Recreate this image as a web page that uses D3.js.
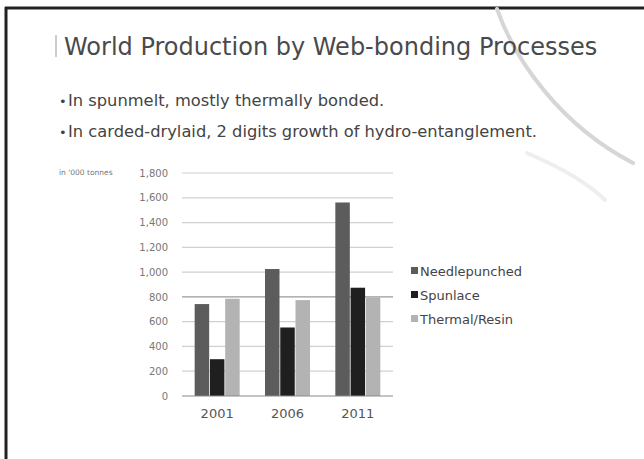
<!DOCTYPE html>
<html>
<head>
<meta charset="utf-8">
<script src="https://cdn.jsdelivr.net/npm/d3@7"></script>
<style>
  html, body { margin: 0; padding: 0; background: #fff; }
  svg { display: block; }
</style>
</head>
<body>
<svg id="chart" width="644" height="459"></svg>
<script>
// Chart data
const years = ["2001", "2006", "2011"];
const seriesNames = ["Needlepunched", "Spunlace", "Thermal/Resin"];
const needlepunched = [742, 1025, 1562];
const spunlace = [297, 553, 874];
const thermalResin = [785, 774, 796];
const yTicks = [0, 200, 400, 600, 800, 1000, 1200, 1400, 1600, 1800];
const seriesColors = ["#5c5c5c", "#1f1f1f", "#b3b3b3"];

const seriesValues = [needlepunched, spunlace, thermalResin];
const rows = years.map((y, i) => ({
  year: y,
  values: seriesNames.map((s, j) => ({ series: s, value: seriesValues[j][i], idx: j }))
}));

const svg = d3.select("#chart");
const font = "'DejaVu Sans', sans-serif";

// Slide frame: dark rule along the top and left edges
svg.append("line").attr("x1", 5).attr("x2", 644).attr("y1", 8).attr("y2", 8)
  .attr("stroke", "#222").attr("stroke-width", 3);
svg.append("line").attr("x1", 6).attr("x2", 6).attr("y1", 7).attr("y2", 459)
  .attr("stroke", "#222").attr("stroke-width", 3);

// Decorative swooshes in the upper right
svg.append("path")
  .attr("d", "M497,9 C515,60 560,125 633,163")
  .attr("fill", "none").attr("stroke", "#d6d6d6").attr("stroke-width", 4)
  .attr("stroke-linecap", "round");
svg.append("path")
  .attr("d", "M527,153 C555,165 585,180 605,200")
  .attr("fill", "none").attr("stroke", "#eeeeee").attr("stroke-width", 4)
  .attr("stroke-linecap", "round");

// Title
svg.append("rect").attr("x", 55).attr("y", 35).attr("width", 2).attr("height", 22).attr("fill", "#ccc");
svg.append("text").attr("x", 64).attr("y", 55)
  .attr("font-family", font).attr("font-size", 24).attr("fill", "#4a4a4a")
  .text("World Production by Web-bonding Processes");

// Bullet points
const bullets = ["In spunmelt, mostly thermally bonded.",
                 "In carded-drylaid, 2 digits growth of hydro-entanglement."];
bullets.forEach((b, i) => {
  const y = 106 + i * 31;
  svg.append("text").attr("x", 59).attr("y", y)
    .attr("font-family", font).attr("font-size", 13).attr("fill", "#444").text("\u2022");
  svg.append("text").attr("x", 68).attr("y", y)
    .attr("font-family", font).attr("font-size", 16.3).attr("fill", "#444").text(b);
});

// Plot area
const plot = { left: 182, right: 393, top: 173, bottom: 396 };

const y = d3.scaleLinear().domain([0, 1800]).range([plot.bottom, plot.top]);
const x = d3.scaleBand().domain(years).range([plot.left, plot.right]).paddingInner(0).paddingOuter(0);
const inner = d3.scaleBand().domain(d3.range(seriesNames.length)).range([0, 45]).paddingInner(0.05);

// Gridlines
svg.append("g").selectAll("line").data(yTicks.filter(t => t > 0)).join("line")
  .attr("x1", plot.left).attr("x2", plot.right)
  .attr("y1", d => y(d)).attr("y2", d => y(d))
  .attr("stroke", d => d === 800 ? "#9a9a9a" : "#d0d0d0").attr("stroke-width", 1.2);

// Bars
const groups = svg.append("g").selectAll("g").data(rows).join("g")
  .attr("transform", d => `translate(${x(d.year) + (x.bandwidth() - 45) / 2},0)`);
groups.selectAll("rect").data(d => d.values).join("rect")
  .attr("x", d => inner(d.idx))
  .attr("width", inner.bandwidth())
  .attr("y", d => y(d.value))
  .attr("height", d => y(0) - y(d.value))
  .attr("fill", d => seriesColors[d.idx]);

// Baseline
svg.append("line").attr("x1", plot.left).attr("x2", plot.right)
  .attr("y1", y(0)).attr("y2", y(0)).attr("stroke", "#8a8a8a").attr("stroke-width", 1.2);

// Y axis labels
const yAxis = d3.axisLeft(y).tickValues(yTicks).tickSize(0).tickPadding(0)
  .tickFormat(d3.format(","));
const gy = svg.append("g").attr("transform", `translate(${168},0)`).call(yAxis);
gy.select(".domain").remove();
gy.selectAll("text").attr("font-family", font).attr("font-size", 10).attr("fill", "#777");

// Unit label
svg.append("text").attr("x", 59).attr("y", 175)
  .attr("font-family", font).attr("font-size", 7.5).attr("fill", "#777")
  .text("in '000 tonnes");

// X axis labels
const xAxis = d3.axisBottom(x).tickSize(0).tickPadding(0);
const gx = svg.append("g").attr("transform", `translate(0,${409})`).call(xAxis);
gx.select(".domain").remove();
gx.selectAll("text").attr("font-family", font).attr("font-size", 13).attr("fill", "#555");

// Legend
const legend = svg.append("g").selectAll("g").data(seriesNames).join("g")
  .attr("transform", (d, i) => `translate(411,${271 + i * 24})`);
legend.append("rect").attr("x", 0).attr("y", -4).attr("width", 7).attr("height", 7)
  .attr("fill", (d, i) => seriesColors[i]);
legend.append("text").attr("x", 9).attr("y", 4.5)
  .attr("font-family", font).attr("font-size", 13).attr("fill", "#444")
  .text(d => d);
</script>
</body>
</html>
